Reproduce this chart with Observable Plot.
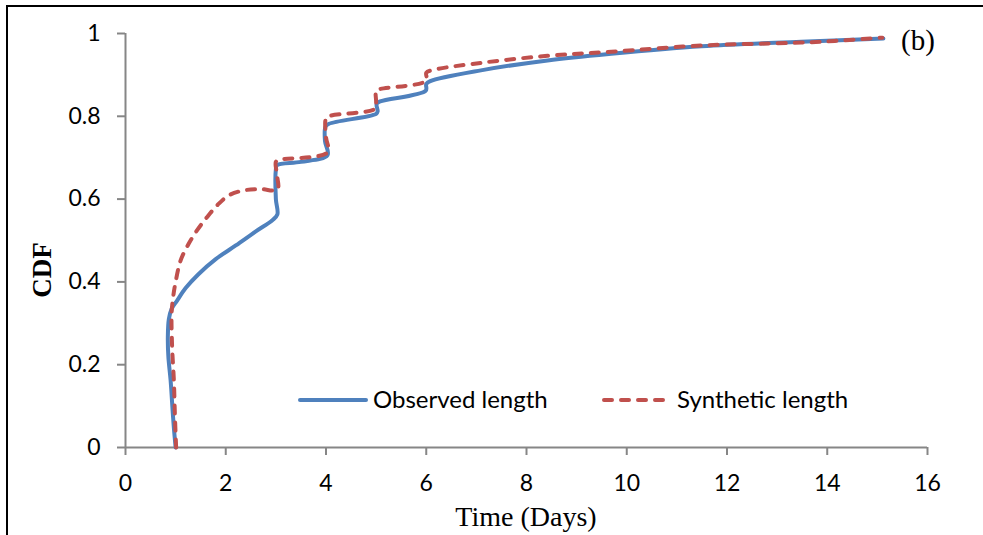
<!DOCTYPE html>
<html>
<head>
<meta charset="utf-8">
<script src="https://cdn.jsdelivr.net/npm/d3@7"></script>
<script src="https://cdn.jsdelivr.net/npm/@observablehq/plot@0.6"></script>
<style>
  html, body { margin: 0; padding: 0; background: #fff; }
  #wrap { position: relative; width: 983px; height: 535px; overflow: hidden; }
  #frame { position: absolute; left: 6px; top: 5px; width: 1200px; height: 800px;
           border-left: 2px solid #000; border-top: 2px solid #000; }
  .serif { font-family: "Liberation Serif", "DejaVu Serif", serif; color: #000; position: absolute; }
  .sans { font-family: Lato, "Open Sans", sans-serif; color: #000; position: absolute; }
</style>
</head>
<body>
<div id="wrap">
  <div id="frame"></div>
  <div id="chart" style="position:absolute;left:0;top:0;"></div>
</div>
<script>
// ---- data ----
const xTicks = [0, 2, 4, 6, 8, 10, 12, 14, 16];
const yTicks = [0, 0.2, 0.4, 0.6, 0.8, 1];
const yTickLabels = ["0", "0.2", "0.4", "0.6", "0.8", "1"];
const seriesNames = ["Observed length", "Synthetic length"];

const observedDays = [1.00, 0.97, 0.945, 0.90, 0.855, 0.845, 0.865, 0.92, 1.03, 1.2, 1.45, 1.8, 2.2, 2.6, 2.93, 3.03, 3.0, 3.0, 3.02, 3.5, 4.03, 3.98, 3.99, 4.06, 5.0, 5.03, 5.01, 5.08, 5.99, 6.0, 6.08, 7.09, 8.42, 9.69, 11.49, 13.48, 15.12];
const observedCdf  = [0.00, 0.04, 0.08, 0.162, 0.22, 0.27, 0.31, 0.335, 0.355, 0.385, 0.418, 0.455, 0.488, 0.522, 0.549, 0.563, 0.60, 0.672, 0.682, 0.690, 0.706, 0.74, 0.775, 0.782, 0.806, 0.812, 0.83, 0.836, 0.862, 0.878, 0.885, 0.911, 0.935, 0.951, 0.969, 0.980, 0.988];

const syntheticDays = [1.01, 0.985, 0.965, 0.93, 0.92, 0.95, 1.0, 1.1, 1.26, 1.43, 1.63, 1.83, 2.06, 2.36, 2.70, 3.03, 3.02, 3.0, 3.08, 4.03, 4.0, 4.0, 4.08, 4.99, 5.0, 5.0, 5.08, 6.0, 6.0, 6.1, 7.09, 8.42, 9.69, 11.49, 13.48, 14.15, 15.1];
const syntheticCdf  = [0.00, 0.08, 0.162, 0.243, 0.324, 0.363, 0.40, 0.452, 0.492, 0.525, 0.557, 0.585, 0.609, 0.621, 0.624, 0.623, 0.66, 0.690, 0.695, 0.713, 0.75, 0.795, 0.801, 0.819, 0.835, 0.862, 0.866, 0.886, 0.905, 0.911, 0.929, 0.946, 0.956, 0.971, 0.978, 0.982, 0.990];

const observed = observedDays.map((d, i) => ({x: d, y: observedCdf[i]}));
const synthetic = syntheticDays.map((d, i) => ({x: d, y: syntheticCdf[i]}));

const BLUE = "#4F81BD", RED = "#C0504D", GRAY = "#868686";

const chart = Plot.plot({
  width: 983, height: 535,
  marginLeft: 125, marginRight: 56, marginTop: 33, marginBottom: 88,
  style: {fontFamily: "Lato, 'Open Sans', sans-serif", fontSize: "23px", background: "transparent", overflow: "visible"},
  x: {domain: [0, 16]},
  y: {domain: [0, 1]},
  marks: [
    Plot.ruleY([0], {stroke: GRAY, strokeWidth: 2}),
    Plot.ruleX([0], {stroke: GRAY, strokeWidth: 2}),
    Plot.axisX({ticks: xTicks, tickSize: 8, tickPadding: 19, stroke: GRAY, strokeWidth: 2, fill: "#000", fontSize: 23, label: null}),
    Plot.axisY({ticks: yTicks, tickFormat: (d) => yTickLabels[yTicks.indexOf(d)], tickSize: 8, tickPadding: 17, stroke: GRAY, strokeWidth: 2, fill: "#000", fontSize: 23, label: null}),
    Plot.line(observed, {x: "x", y: "y", stroke: BLUE, strokeWidth: 4, curve: "catmull-rom"}),
    Plot.line(synthetic, {x: "x", y: "y", stroke: RED, strokeWidth: 4, strokeDasharray: "8,9", strokeLinecap: "round", curve: "catmull-rom"})
  ]
});
document.getElementById("chart").appendChild(chart);

const wrap = document.getElementById("wrap");
function addText(cls, text, css) {
  const el = document.createElement("div");
  el.className = cls;
  el.textContent = text;
  Object.assign(el.style, css);
  wrap.appendChild(el);
  return el;
}
addText("serif", "Time (Days)", {left: "376px", width: "300px", textAlign: "center", top: "500px", fontSize: "28px", lineHeight: "34px"});
addText("serif", "(b)", {left: "901px", top: "23px", fontSize: "29px", lineHeight: "34px"});
addText("serif", "CDF", {left: "42px", top: "270px", fontSize: "27px", fontWeight: "bold", lineHeight: "30px",
  transform: "translate(-50%,-50%) rotate(-90deg)", whiteSpace: "nowrap"});

// legend
const ns = "http://www.w3.org/2000/svg";
function legendItem(x, color, dash, label) {
  const svg = document.createElementNS(ns, "svg");
  svg.setAttribute("width", 72); svg.setAttribute("height", 10);
  svg.style.position = "absolute"; svg.style.left = x + "px"; svg.style.top = "395px";
  const l = document.createElementNS(ns, "line");
  l.setAttribute("x1", 2); l.setAttribute("x2", 68); l.setAttribute("y1", 5); l.setAttribute("y2", 5);
  l.setAttribute("stroke", color); l.setAttribute("stroke-width", 4); l.setAttribute("stroke-linecap", "round");
  if (dash) l.setAttribute("stroke-dasharray", dash);
  svg.appendChild(l);
  wrap.appendChild(svg);
  addText("sans", label, {left: (x + 75) + "px", top: "384px", fontSize: "24px", lineHeight: "30px", whiteSpace: "nowrap"});
}
legendItem(298, BLUE, null, seriesNames[0]);
legendItem(602, RED, "8,9", seriesNames[1]);
</script>
</body>
</html>
